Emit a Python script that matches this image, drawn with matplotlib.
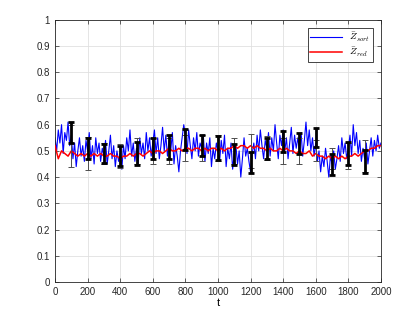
import matplotlib
matplotlib.use('Agg')
import matplotlib.pyplot as plt
import numpy as np

plt.rcParams['font.family'] = ['Liberation Sans', 'DejaVu Sans']
plt.rcParams['mathtext.fontset'] = 'cm'

# blue series, sampled every 10 steps (t = 0..2000)
z_sort = [
    0.55, 0.50, 0.58, 0.53, 0.60, 0.49, 0.57, 0.54, 0.61, 0.52,
    0.56, 0.47, 0.53, 0.44, 0.50, 0.55, 0.48, 0.52, 0.46, 0.54,
    0.50, 0.57, 0.47, 0.52, 0.45, 0.55, 0.49, 0.53, 0.46, 0.51,
    0.48, 0.54, 0.45, 0.50, 0.56, 0.47, 0.52, 0.44, 0.50, 0.46,
    0.49, 0.43, 0.52, 0.47, 0.55, 0.50, 0.58, 0.48, 0.53, 0.46,
    0.51, 0.45, 0.55, 0.49, 0.53, 0.47, 0.57, 0.50, 0.55, 0.48,
    0.53, 0.58, 0.49, 0.55, 0.47, 0.52, 0.59, 0.50, 0.56, 0.48,
    0.54, 0.50, 0.57, 0.45, 0.52, 0.48, 0.42, 0.50, 0.55, 0.60,
    0.56, 0.49, 0.58, 0.52, 0.47, 0.55, 0.50, 0.57, 0.48, 0.53,
    0.51, 0.56, 0.46, 0.53, 0.49, 0.55, 0.44, 0.51, 0.47, 0.53,
    0.50, 0.46, 0.54, 0.49, 0.56, 0.44, 0.51, 0.47, 0.53, 0.43,
    0.49, 0.52, 0.45, 0.50, 0.40, 0.47, 0.55, 0.48, 0.51, 0.46,
    0.42, 0.49, 0.53, 0.47, 0.56, 0.50, 0.58, 0.52, 0.47, 0.54,
    0.51, 0.57, 0.48, 0.55, 0.50, 0.60, 0.53, 0.47, 0.56, 0.52,
    0.58, 0.50, 0.55, 0.47, 0.53, 0.59, 0.49, 0.56, 0.51, 0.55,
    0.50, 0.57, 0.48, 0.54, 0.61, 0.52, 0.58, 0.50, 0.55, 0.48,
    0.53, 0.46, 0.50, 0.42, 0.48, 0.44, 0.51, 0.46, 0.40, 0.48,
    0.45, 0.50, 0.43, 0.47, 0.52, 0.46, 0.55, 0.49, 0.53, 0.47,
    0.51, 0.56, 0.48, 0.60, 0.52, 0.57, 0.49, 0.54, 0.46, 0.51,
    0.47, 0.53, 0.45, 0.50, 0.55, 0.48, 0.54, 0.50, 0.56, 0.51,
    0.53,
]
t_sort = np.arange(0, 2001, 10)

# red series, sampled every 20 steps
z_red = [
    0.52, 0.47, 0.50, 0.49, 0.48, 0.50, 0.49, 0.48, 0.49, 0.48,
    0.49, 0.48, 0.49, 0.48, 0.49, 0.48, 0.48, 0.49, 0.48, 0.48,
    0.47, 0.48, 0.48, 0.49, 0.48, 0.49, 0.49, 0.48, 0.49, 0.50,
    0.49, 0.50, 0.50, 0.49, 0.50, 0.51, 0.50, 0.50, 0.51, 0.50,
    0.51, 0.51, 0.50, 0.51, 0.51, 0.50, 0.51, 0.50, 0.51, 0.51,
    0.50, 0.51, 0.50, 0.51, 0.51, 0.52, 0.51, 0.52, 0.52, 0.51,
    0.52, 0.51, 0.52, 0.51, 0.51, 0.50, 0.51, 0.50, 0.50, 0.51,
    0.50, 0.51, 0.50, 0.50, 0.49, 0.50, 0.49, 0.49, 0.50, 0.48,
    0.49, 0.48, 0.48, 0.47, 0.48, 0.47, 0.48, 0.47, 0.48, 0.47,
    0.48, 0.48, 0.49, 0.48, 0.49, 0.50, 0.50, 0.51, 0.51, 0.52,
    0.52,
]
t_red = np.arange(0, 2001, 20)

# error bars
t_err = [100, 200, 300, 400, 500, 600, 700, 800, 900, 1000,
         1100, 1200, 1300, 1400, 1500, 1600, 1700, 1800, 1900]
blk_mean = [0.57, 0.51, 0.49, 0.48, 0.49, 0.51, 0.515, 0.545, 0.52, 0.51,
            0.485, 0.455, 0.51, 0.535, 0.53, 0.55, 0.447, 0.49, 0.46]
blk_err = [0.04, 0.04, 0.035, 0.037, 0.045, 0.04, 0.045, 0.04, 0.04, 0.045,
           0.04, 0.04, 0.04, 0.04, 0.04, 0.037, 0.04, 0.042, 0.045]
gry_mean = [0.52, 0.49, 0.49, 0.48, 0.50, 0.50, 0.50, 0.51, 0.51, 0.51,
            0.50, 0.50, 0.51, 0.50, 0.50, 0.50, 0.47, 0.48, 0.48]
gry_err = [0.08, 0.062, 0.04, 0.045, 0.05, 0.05, 0.05, 0.05, 0.05, 0.05,
           0.05, 0.065, 0.045, 0.05, 0.05, 0.04, 0.04, 0.05, 0.06]

fig = plt.figure(figsize=(4.2, 3.15), dpi=100)
ax = fig.add_axes([0.131, 0.105, 0.776, 0.832])

ax.plot(t_sort, z_sort, color=(0, 0, 1), lw=0.8, label=r'$\bar{Z}_{sort}$', zorder=2)
ax.plot(t_red, z_red, color=(1, 0, 0), lw=1.1, label=r'$\bar{Z}_{red}$', zorder=3)
ax.errorbar(t_err, gry_mean, yerr=gry_err, fmt='none', ecolor=(0.3, 0.3, 0.3),
            elinewidth=0.7, capsize=2.5, capthick=0.7, zorder=4)
ax.errorbar(t_err, blk_mean, yerr=blk_err, fmt='none', ecolor='k',
            elinewidth=2, capsize=2.5, capthick=2, zorder=5)

ax.set_xlim(0, 2000)
ax.set_ylim(0, 1)
ax.set_xticks(np.arange(0, 2001, 200))
ax.set_yticks(np.arange(0, 1.01, 0.1))
ax.set_yticklabels(['0', '0.1', '0.2', '0.3', '0.4', '0.5', '0.6', '0.7', '0.8', '0.9', '1'])
ax.grid(True, color=(0.88, 0.88, 0.88), lw=0.6)
ax.set_axisbelow(True)
ax.tick_params(direction='in', length=3, width=0.5, labelsize=7, colors=(0.15, 0.15, 0.15),
               top=True, right=True)
for s in ax.spines.values():
    s.set_linewidth(0.6)
    s.set_color((0.15, 0.15, 0.15))
ax.set_xlabel('t', fontsize=8, labelpad=1)

leg = ax.legend(loc='upper right', fontsize=7, fancybox=False, framealpha=1,
                edgecolor=(0.15, 0.15, 0.15), handlelength=3.2, borderpad=0.3,
                labelspacing=0.2, borderaxespad=0.8)
leg.get_frame().set_linewidth(0.6)

fig.savefig('out.png', dpi=100)
